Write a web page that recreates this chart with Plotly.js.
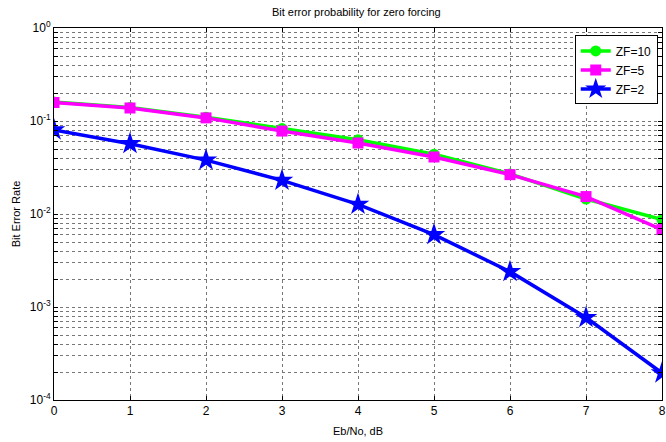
<!DOCTYPE html>
<html><head><meta charset="utf-8">
<script src="https://cdn.plot.ly/plotly-3.0.1.min.js"></script>
<style>html,body{margin:0;padding:0;background:#fff}#c{width:666px;height:442px}</style>
</head><body><div id="c"></div>
<script>
const ebno = [0,1,2,3,4,5,6,7,8];
const zf10 = [0.160,0.140,0.110,0.083,0.063,0.044,0.027,0.0145,0.0087];
const zf5  = [0.158,0.138,0.108,0.078,0.058,0.041,0.0265,0.0154,0.0068];
const zf2  = [0.080,0.057,0.038,0.023,0.0127,0.0060,0.0024,0.00077,0.000195];
const xTicks = [0,1,2,3,4,5,6,7,8];
const decades = [-4,-3,-2,-1,0];

const yVals = [], yText = [];
decades.forEach(d => {
  for (let m = 1; m <= 9; m++) {
    if (d === 0 && m > 1) break;
    yVals.push(m * Math.pow(10, d));
    yText.push(m === 1 ? '10<sup>' + d + '</sup>' : '');
  }
});

const traces = [
  {x: ebno, y: zf10, name: 'ZF=10', mode: 'lines+markers',
   line: {color: '#00ff00', width: 3.5}, marker: {symbol: 'circle', size: 11, color: '#00ff00'}},
  {x: ebno, y: zf5, name: 'ZF=5', mode: 'lines+markers',
   line: {color: '#ff00ff', width: 3.5}, marker: {symbol: 'square', size: 11, color: '#ff00ff'}},
  {x: ebno, y: zf2, name: 'ZF=2', mode: 'lines+markers',
   line: {color: '#0000ff', width: 3.5}, marker: {symbol: 'star', size: 17, color: '#0000ff'}}
];

const layout = {
  width: 666, height: 442,
  margin: {l: 54, r: 4, t: 28, b: 42},
  paper_bgcolor: '#fff', plot_bgcolor: '#fff',
  font: {family: 'Liberation Sans, Arial, sans-serif', size: 11, color: '#000'},
  title: {text: 'Bit error probability for zero forcing', font: {size: 11},
          x: 0.535, xanchor: 'center', yref: 'container', y: 0.972, yanchor: 'middle'},
  showlegend: true,
  legend: {x: 0.993, xanchor: 'right', y: 0.98, yanchor: 'top',
           bgcolor: '#fff', bordercolor: '#000', borderwidth: 1,
           font: {size: 12}, tracegroupgap: 0},
  xaxis: {range: [0, 8], tickvals: xTicks, ticktext: xTicks.map(String),
          showgrid: true, gridcolor: '#777', griddash: 'dot', gridwidth: 1,
          showline: true, linecolor: '#000', linewidth: 1, mirror: 'ticks',
          ticks: 'inside', ticklen: 4, tickcolor: '#000', zeroline: false,
          tickfont: {size: 12},
          title: {text: 'Eb/No, dB', standoff: 9, font: {size: 11}}},
  yaxis: {type: 'log', range: [-4, 0], tickvals: yVals, ticktext: yText,
          showgrid: true, gridcolor: '#777', griddash: 'dot', gridwidth: 1,
          showline: true, linecolor: '#000', linewidth: 1, mirror: 'ticks',
          ticks: 'inside', ticklen: 4, tickcolor: '#000', zeroline: false,
          tickfont: {size: 12},
          title: {text: 'Bit Error Rate', standoff: 6, font: {size: 11}}}
};

Plotly.newPlot('c', traces, layout, {displayModeBar: false, staticPlot: true});
</script></body></html>
